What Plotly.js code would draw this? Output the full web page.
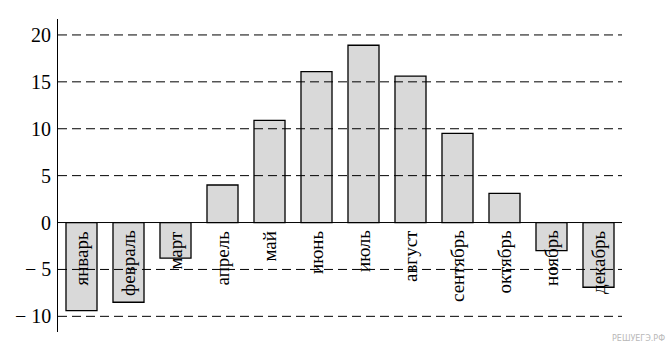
<!DOCTYPE html>
<html><head><meta charset="utf-8">
<script src="https://cdn.plot.ly/plotly-3.0.1.min.js"></script>
<style>html,body{margin:0;padding:0;background:#fff}#c{width:670px;height:359px}</style>
</head><body><div id="c"></div>
<script>
const months = ["январь","февраль","март","апрель","май","июнь","июль","август","сентябрь","октябрь","ноябрь","декабрь"];
const temps = [-9.4,-8.5,-3.8,4,10.9,16.1,18.9,15.6,9.5,3.1,-3.0,-6.9];
const tickVals = [-10,-5,0,5,10,15,20];
const tickText = ["− 10","− 5","0","5","10","15","20"];

const serif = "Liberation Serif, Times New Roman, serif";

const shapes = tickVals.map(v => ({
  type:"line", xref:"paper", x0:0, x1:1, yref:"y", y0:v, y1:v, layer:"above",
  line:{color:"#000", width:1, dash: v===0 ? "solid" : "9px,5px"}
}));

const annotations = months.map((m,i)=>({
  x:m, y:0, xref:"x", yref:"y", text:m, showarrow:false, textangle:-90,
  yanchor:"top", xanchor:"center", yshift:-6,
  font:{family:serif, size:19, color:"#000"}
}));
tickVals.forEach((v,i)=>annotations.push({
  x:0, xref:"paper", y:v, yref:"y", text:tickText[i], showarrow:false,
  xanchor:"right", yanchor:"middle", xshift:-5,
  font:{family:serif, size:20, color:"#000"}
}));
annotations.push({xref:"paper", yref:"paper", x:1.08, y:-0.0, xanchor:"right", yanchor:"top",
  text:"РЕШУЕГЭ.РФ", showarrow:false, font:{family:"DejaVu Sans", size:8, color:"#b8b8b8"}});

Plotly.newPlot("c", [{
  type:"bar", x:months, y:temps,
  marker:{color:"#d9d9d9", line:{color:"#000", width:1.3}},
  hoverinfo:"none"
}], {
  width:670, height:359,
  font:{family:serif, size:19, color:"#000"},
  margin:{l:58, r:48, t:19, b:27},
  paper_bgcolor:"#fff", plot_bgcolor:"#fff",
  bargap:0.34, showlegend:false,
  xaxis:{showticklabels:false, showgrid:false, zeroline:false, showline:false, ticks:""},
  yaxis:{range:[-11.67,21.7], showticklabels:false, showgrid:false, zeroline:false,
    showline:true, linecolor:"#000", linewidth:1.3, ticks:""},
  shapes:shapes, annotations:annotations
}, {staticPlot:true});
</script></body></html>
